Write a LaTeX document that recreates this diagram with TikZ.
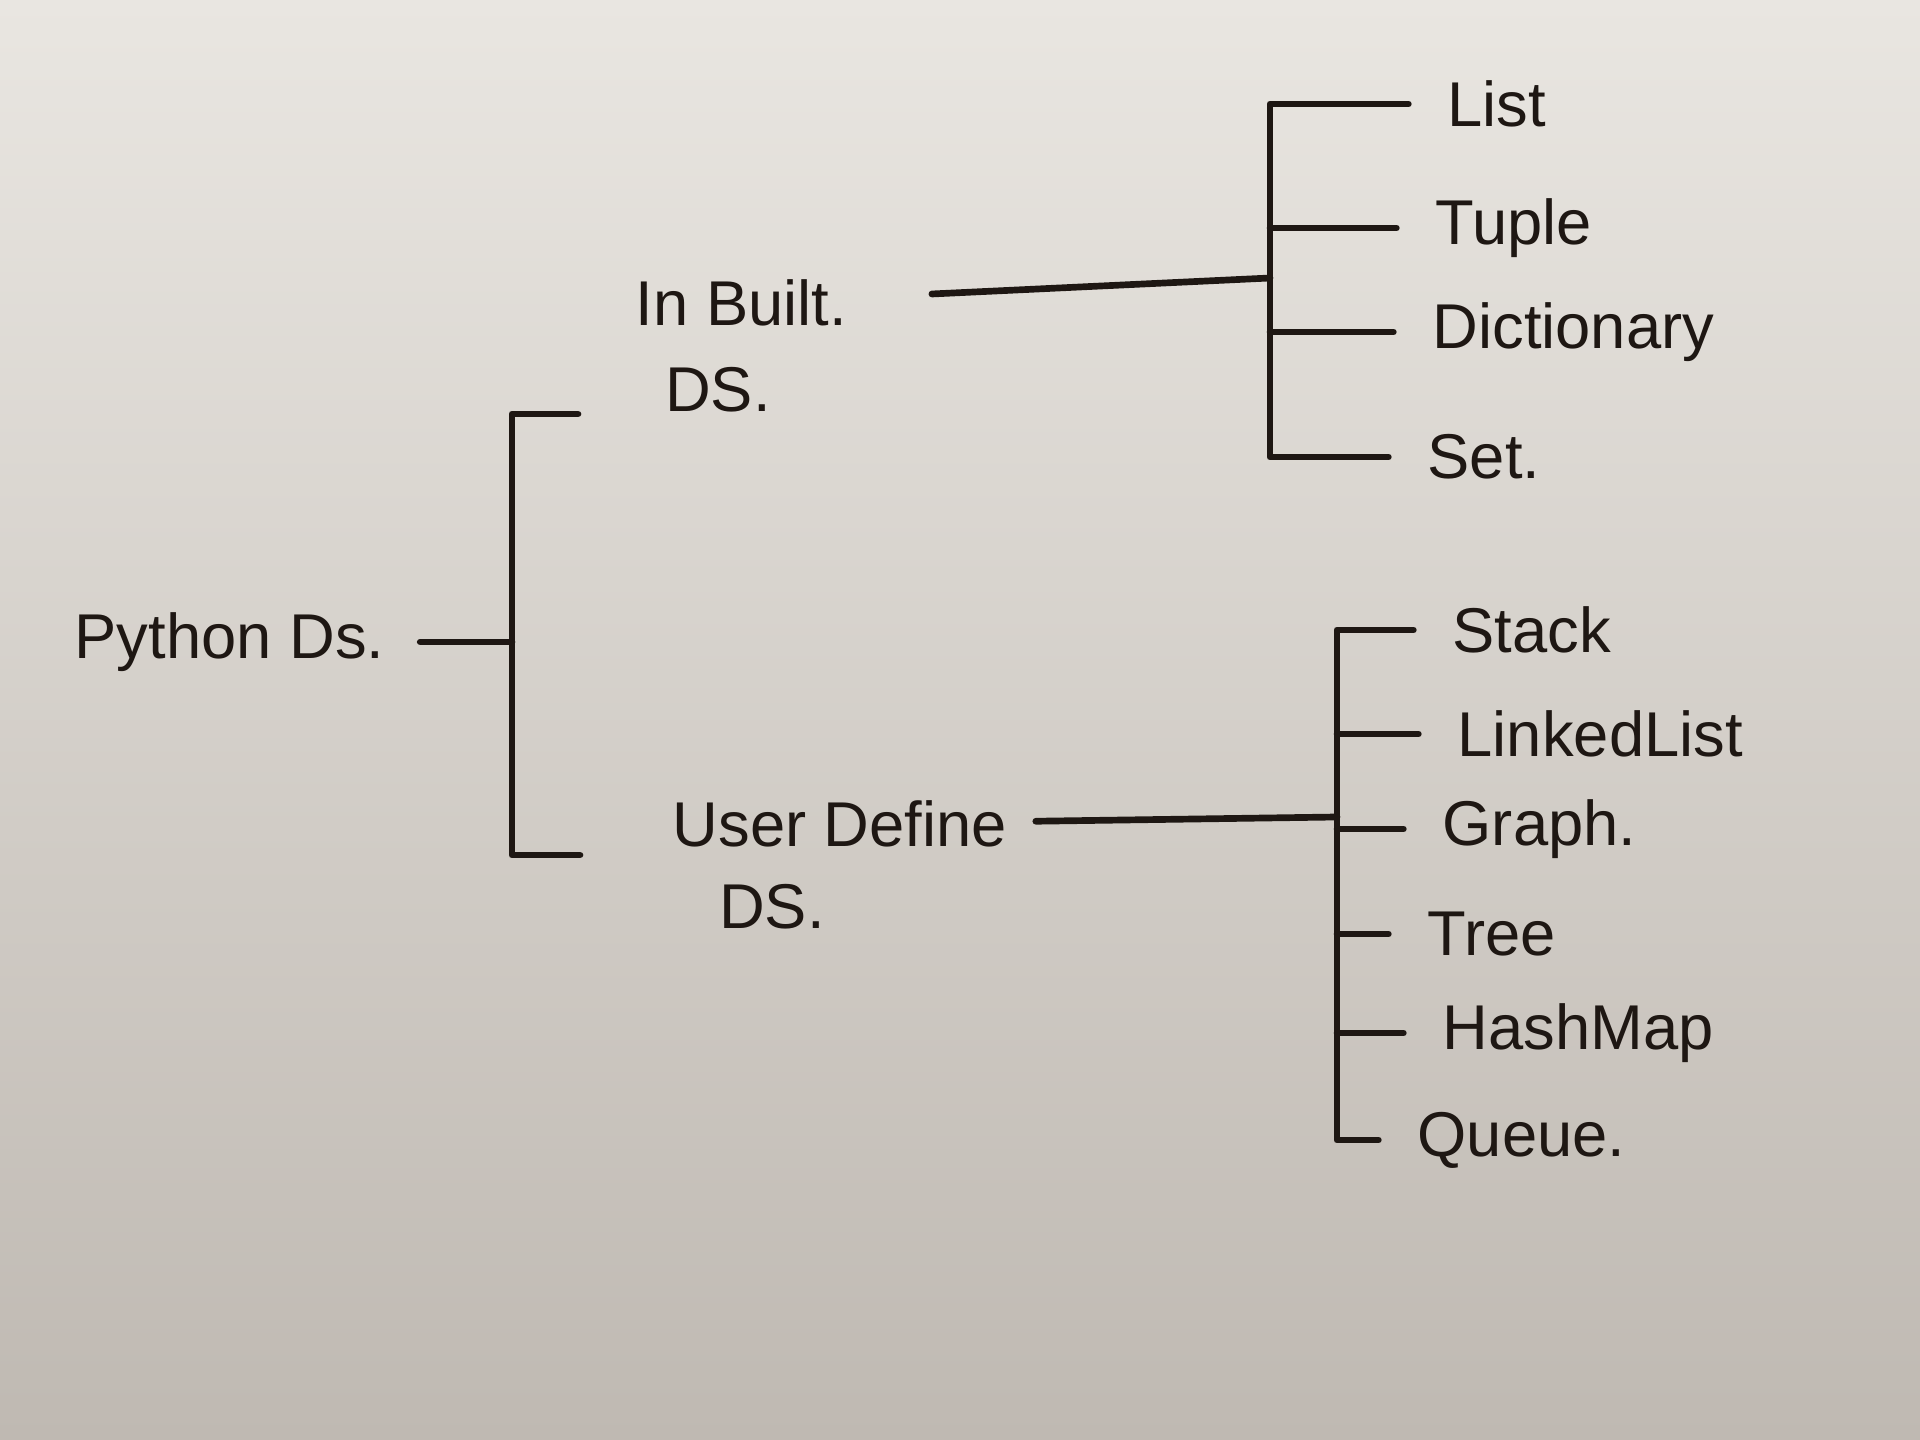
\documentclass[tikz,border=0pt]{standalone}
\usepackage{fontspec}
\setmainfont{Liberation Sans}
\definecolor{ink}{HTML}{1E1713}
\definecolor{paper}{HTML}{E9E6E1}
\definecolor{papershade}{HTML}{BFB9B2}
\begin{document}
\begin{tikzpicture}[x=0.01cm,y=-0.01cm,
    branch/.style={ink,line width=1.9pt,line cap=round,line join=round},
    tick/.style={branch,shorten >=9pt},
    txt/.style={ink,font=\fontsize{18}{22}\selectfont,inner sep=2pt},
    leaf/.style={txt,anchor=west}]
    \shade[top color=paper,bottom color=papershade] (0,0) rectangle (1920,1440);
    \node[txt,anchor=west] (py) at (67,642) {Python Ds.};
    \node[txt,anchor=west] (inb) at (628,303) {In Built.};
    \node[txt] (inbds) at (718,390) {DS.};
    \node[txt,anchor=west] (usr) at (665,824) {User Define};
    \node[txt] (usrds) at (772,907) {DS.};
    \coordinate (rootj) at (512,642);
    \coordinate (inbt) at (578,414);
    \coordinate (usrt) at (580,855);
    \coordinate (inbj) at (1270,278);
    \coordinate (usrj) at (1337,817);
    \draw[branch,shorten <=8pt] (py) -- (py -| rootj);
    \draw[branch] (inbt) -| (rootj) |- (usrt);
    \draw[branch,shorten <=22pt] (inb) -- (inbj);
    \draw[branch,shorten <=6pt] (usr) -- (usrj);
    \node[leaf] (list) at (1440,104) {List};
    \node[leaf] (tuple) at (1428,228) {Tuple};
    \node[leaf] (dict) at (1425,332) {Dictionary};
    \node[leaf] (set) at (1420,457) {Set.};
    \draw[tick] (inbj) |- (list);
    \draw[tick] (inbj) |- (set);
    \draw[tick] (tuple -| inbj) -- (tuple);
    \draw[tick] (dict -| inbj) -- (dict);
    \node[leaf] (stack) at (1445,630) {Stack};
    \node[leaf] (llist) at (1450,734) {LinkedList};
    \node[leaf] (graph) at (1435,829) {Graph.};
    \node[leaf] (tree) at (1420,934) {Tree};
    \node[leaf] (hmap) at (1435,1033) {HashMap};
    \node[leaf] (queue) at (1410,1140) {Queue.};
    \draw[tick] (usrj) |- (stack);
    \draw[tick] (usrj) |- (queue);
    \draw[tick] (llist -| usrj) -- (llist);
    \draw[tick] (graph -| usrj) -- (graph);
    \draw[tick] (tree -| usrj) -- (tree);
    \draw[tick] (hmap -| usrj) -- (hmap);
  \end{tikzpicture}
\end{document}
